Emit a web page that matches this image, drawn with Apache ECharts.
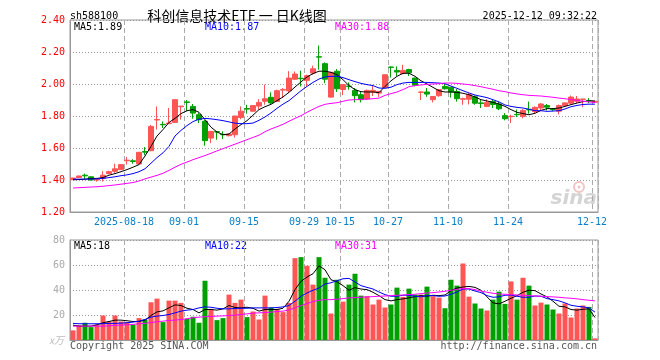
<!DOCTYPE html>
<html><head><meta charset="utf-8">
<script src="https://cdn.jsdelivr.net/npm/echarts@6/dist/echarts.min.js"></script>
<style>html,body{margin:0;padding:0;background:#fff}#c{width:660px;height:360px}</style>
</head><body><div id="c"></div>
<script>
const dates = [
'2025-08-05','2025-08-06','2025-08-07','2025-08-08','2025-08-11','2025-08-12','2025-08-13','2025-08-14','2025-08-15','2025-08-18',
'2025-08-19','2025-08-20','2025-08-21','2025-08-22','2025-08-25','2025-08-26','2025-08-27','2025-08-28','2025-08-29','2025-09-01',
'2025-09-02','2025-09-03','2025-09-04','2025-09-05','2025-09-08','2025-09-09','2025-09-10','2025-09-11','2025-09-12','2025-09-15',
'2025-09-16','2025-09-17','2025-09-18','2025-09-19','2025-09-22','2025-09-23','2025-09-24','2025-09-25','2025-09-26','2025-09-29',
'2025-09-30','2025-10-09','2025-10-10','2025-10-13','2025-10-14','2025-10-15','2025-10-16','2025-10-17','2025-10-20','2025-10-21',
'2025-10-22','2025-10-23','2025-10-24','2025-10-27','2025-10-28','2025-10-29','2025-10-30','2025-10-31','2025-11-03','2025-11-04',
'2025-11-05','2025-11-06','2025-11-07','2025-11-10','2025-11-11','2025-11-12','2025-11-13','2025-11-14','2025-11-17','2025-11-18',
'2025-11-19','2025-11-20','2025-11-21','2025-11-24','2025-11-25','2025-11-26','2025-11-27','2025-11-28','2025-12-01','2025-12-02',
'2025-12-03','2025-12-04','2025-12-05','2025-12-08','2025-12-09','2025-12-10','2025-12-11','2025-12-12'];
const labelIdx = [9,19,29,39,45,53,63,73,87];

const open = [1.402,1.415,1.43,1.42,1.40,1.41,1.44,1.454,1.465,1.52, 1.52,1.50,1.578,1.583,1.775,1.748,1.752,1.76,1.858,1.888, 1.86,1.808,1.767,1.662,1.702,1.685,1.677,1.683,1.79,1.847, 1.83,1.862,1.892,1.917,1.89,1.962,1.958,2.03,2.036,2.023, 2.068,2.17,2.127,1.918,2.08,1.966,1.987,1.96,1.933,1.906, 1.95,1.943,1.978,2.106,2.085,2.065,2.09,2.037,1.948,1.95, 1.902,1.927,1.985,1.98,1.954,1.905,1.905,1.92,1.882,1.86, 1.89,1.875,1.802,1.796,1.81,1.798,1.842,1.828,1.85,1.865, 1.842,1.83,1.865,1.88,1.892,1.904,1.897,1.886];
const close = [1.412,1.425,1.426,1.40,1.405,1.43,1.452,1.47,1.496,1.524, 1.516,1.573,1.574,1.735,1.778,1.745,1.756,1.902,1.862,1.885, 1.818,1.777,1.646,1.704,1.70,1.683,1.687,1.80,1.83,1.843, 1.865,1.885,1.908,1.882,1.958,1.965,2.037,2.062,2.033,2.052, 2.095,2.168,2.03,2.073,1.97,1.996,1.985,1.927,1.902,1.96, 1.96,1.954,2.058,2.104,2.075,2.085,2.07,1.992,1.95,1.937, 1.922,1.965,1.97,1.95,1.908,1.908,1.933,1.88,1.878,1.885, 1.872,1.845,1.783,1.798,1.808,1.835,1.838,1.854,1.875,1.855, 1.84,1.865,1.882,1.918,1.906,1.906,1.895,1.892];
const low = [1.40,1.412,1.408,1.398,1.39,1.39,1.436,1.444,1.462,1.496, 1.502,1.498,1.555,1.58,1.715,1.725,1.752,1.758,1.777,1.83, 1.783,1.756,1.615,1.63,1.652,1.656,1.672,1.665,1.78,1.815, 1.828,1.84,1.87,1.87,1.888,1.912,1.945,2.025,1.985,1.985, 2.058,2.09,2.005,1.915,1.95,1.93,1.965,1.885,1.885,1.90, 1.925,1.92,1.975,2.04,2.05,2.06,2.05,1.985,1.90,1.92, 1.885,1.92,1.965,1.915,1.89,1.87,1.872,1.87,1.85,1.855, 1.85,1.837,1.773,1.756,1.793,1.785,1.815,1.818,1.835,1.835, 1.83,1.81,1.862,1.875,1.88,1.855,1.88,1.885];
const high = [1.414,1.428,1.44,1.422,1.408,1.455,1.458,1.502,1.50,1.544, 1.53,1.575,1.606,1.745,1.86,1.766,1.85,1.905,1.862,1.90, 1.875,1.818,1.775,1.704,1.702,1.704,1.69,1.80,1.86,1.87, 1.868,1.905,1.996,1.948,1.965,1.975,2.08,2.078,2.083,2.058, 2.115,2.24,2.135,2.075,2.093,1.996,2.01,1.975,1.955,1.965, 1.995,1.954,2.058,2.11,2.11,2.12,2.095,2.04,1.954,1.975, 1.922,1.965,2.005,1.98,1.968,1.915,1.943,1.928,1.90,1.905, 1.90,1.89,1.818,1.808,1.84,1.843,1.89,1.86,1.88,1.875, 1.85,1.872,1.885,1.928,1.925,1.906,1.912,1.895];

const ma5 = [1.402,1.403,1.405,1.41,1.41,1.415,1.43,1.44,1.452,1.465, 1.48,1.496,1.55,1.61,1.675,1.715,1.76,1.785,1.815,1.833, 1.84,1.823,1.777,1.73,1.70,1.683,1.687,1.719,1.746,1.771, 1.805,1.84,1.858,1.873,1.896,1.919,1.948,1.981,2.013,2.044, 2.065,2.08,2.08,2.073,2.058,2.027,1.99,1.965,1.952,1.95, 1.95,1.946,1.985,2.02,2.048,2.067,2.067,2.048,2.02,2.00, 1.979,1.958,1.95,1.95,1.948,1.942,1.933,1.919,1.902,1.894, 1.885,1.875,1.86,1.84,1.823,1.815,1.808,1.817,1.835,1.846, 1.846,1.85,1.86,1.871,1.881,1.89,1.894,1.894];
const ma10 = [1.405,1.405,1.405,1.406,1.407,1.41,1.415,1.42,1.427,1.432, 1.44,1.452,1.47,1.505,1.54,1.57,1.61,1.675,1.71,1.74, 1.765,1.78,1.785,1.782,1.777,1.771,1.763,1.755,1.752,1.752, 1.756,1.773,1.794,1.819,1.848,1.874,1.896,1.927,1.958,1.985, 2.01,2.031,2.044,2.048,2.048,2.04,2.027,2.015,2.004,1.996, 1.99,1.975,1.973,1.98,1.996,2.006,2.01,2.01,2.01,2.01, 2.008,2.006,2.002,1.987,1.973,1.958,1.944,1.931,1.923,1.915, 1.902,1.888,1.869,1.86,1.854,1.85,1.842,1.833,1.833,1.829, 1.831,1.833,1.844,1.858,1.866,1.872,1.874,1.874];
const ma30 = [1.35,1.352,1.354,1.356,1.358,1.361,1.365,1.369,1.374,1.379, 1.384,1.394,1.407,1.418,1.429,1.442,1.46,1.48,1.498,1.512, 1.527,1.54,1.553,1.567,1.582,1.596,1.61,1.624,1.638,1.652, 1.666,1.68,1.702,1.719,1.733,1.748,1.767,1.785,1.802,1.823, 1.842,1.86,1.873,1.879,1.883,1.892,1.90,1.902,1.904,1.906, 1.908,1.912,1.929,1.94,1.95,1.965,1.983,1.99,1.994,1.998, 2.0,2.002,2.006,2.006,2.004,2.0,1.996,1.99,1.983,1.975, 1.967,1.958,1.952,1.944,1.938,1.933,1.929,1.927,1.925,1.921, 1.917,1.912,1.908,1.902,1.898,1.892,1.888,1.884];

const vol = [7.7,11.7,13.8,10.3,12.2,19.6,14.8,19.6,14.8,14.3, 12.2,17.5,16.4,30.2,33.1,14.3,31.5,31.5,29.7,17.0, 18.6,13.8,47.4,24.9,15.9,17.5,36.3,29.7,32.3,18.3, 22.8,16.4,35.5,26.0,24.9,22.3,29.7,65.5,66.3,59.4, 44.3,66.3,49.8,21.2,48.2,30.7,44.3,53.0,35.5,35.0, 28.4,32.3,26.0,28.4,41.9,34.5,41.1,36.3,36.3,42.7, 35.0,33.9,25.4,48.2,43.5,61.2,34.7,29.2,25.2,23.6, 32.3,38.7,28.9,46.9,32.3,49.8,43.5,27.6,29.9,28.4, 24.4,21.2,29.2,18.0,25.2,27.6,26.5,1.3];
const vma5 = [11.9,11.1,11.1,11.1,12.2,13.8,14.8,15.9,15.9,15.4, 14.8,14.8,15.9,19.6,22.5,23.3,25.7,28.1,27.6,25.4, 24.4,21.7,24.4,24.4,23.9,24.9,27.6,26.0,25.7,26.2, 25.4,23.1,24.4,24.4,24.4,25.4,31.0,40.3,46.9,50.4, 53.0,59.4,56.2,48.2,46.6,43.5,39.8,41.9,40.8,40.3, 38.2,35.5,32.3,31.3,32.3,32.9,33.7,34.7,35.5,35.0, 35.8,35.5,36.0,39.5,41.6,42.4,42.9,42.1,39.8,34.5, 29.7,28.9,31.0,33.4,35.5,38.2,39.8,39.5,36.8,34.5, 31.0,27.0,26.5,24.4,23.9,24.6,24.9,18.0];
const vma10 = [13.3,13.0,13.0,13.0,13.0,13.0,13.3,13.3,13.5,13.8, 14.3,15.1,16.4,18.3,19.1,19.6,20.4,21.7,23.1,23.9, 24.4,25.7,26.5,26.2,25.4,24.9,24.9,25.2,25.4,25.4, 25.7,25.7,25.7,25.7,26.0,26.5,27.6,31.0,35.0,37.6, 39.8,41.6,44.8,45.8,47.4,49.0,49.3,46.4,43.5,42.1, 40.8,38.4,36.3,35.0,35.0,35.8,35.8,35.0,34.5,35.5, 35.5,35.0,35.2,36.6,38.4,40.8,40.8,39.2,37.9,35.5, 34.2,34.5,35.8,36.0,35.0,34.2,34.2,35.2,35.0,33.1, 32.3,31.3,29.7,27.8,27.0,26.5,25.7,22.3];
const vma30 = [11.1,11.1,11.1,11.1,11.1,11.1,11.4,11.7,11.9,12.2, 12.5,13.0,13.3,14.0,14.6,15.1,15.6,15.9,16.4,17.0, 17.8,18.3,18.6,18.8,19.1,19.3,19.6,19.9,20.4,20.9, 21.5,21.7,22.0,22.3,22.8,23.1,24.1,25.7,27.6,29.2, 30.7,31.8,32.3,32.3,32.6,33.1,33.7,33.9,34.2,34.5, 34.7,35.0,35.2,35.5,35.8,36.0,36.3,36.6,37.1,37.6, 37.9,38.4,39.0,39.8,40.5,41.3,41.1,40.3,39.2,38.2, 37.4,36.8,36.6,36.3,36.0,35.8,35.5,35.2,35.0,34.7, 34.5,34.2,33.7,33.4,32.9,32.3,31.8,31.3];

const priceTicks = [1.2, 2.4, 0.2];
const volTicks = [0, 80, 20];

const RED = '#ff5555', GREEN = '#00a000';
const MONO = 'DejaVu Sans Mono';
const CJK = 'Noto Sans CJK SC';
const showIdx = i => labelIdx.indexOf(i) >= 0;
const last = a => a[a.length - 1];

const candle = dates.map((d, i) => [open[i], close[i], low[i], high[i]]);
const volData = vol.map((v, i) => ({ value: v, itemStyle: { color: close[i] >= open[i] ? RED : GREEN } }));

function xAx(gi, labels) {
  return {
    type: 'category', data: dates, gridIndex: gi, boundaryGap: true,
    axisLine: { show: true, lineStyle: { color: '#999' } },
    axisTick: { show: false },
    axisLabel: labels ? {
      interval: (i) => showIdx(i),
      formatter: (v, i) => (i === labelIdx[0] ? v : v.slice(5)),
      color: '#0a7fc6', fontFamily: MONO, fontSize: 10, margin: 5, padding: [0, 6, 0, 0]
    } : { show: false },
    splitLine: { show: true, interval: (i) => showIdx(i), lineStyle: { color: '#aaa', type: [5, 3], width: 1 } }
  };
}
function line(name, data, color, xi, yi) {
  return { name, type: 'line', data, xAxisIndex: xi, yAxisIndex: yi, symbol: 'none', silent: true,
    lineStyle: { color, width: 1 }, itemStyle: { color }, z: 5 };
}
const txt = (x, y, s, fill, opt) => Object.assign({ type: 'text', x, y, silent: true,
  style: Object.assign({ text: s, fill, font: '10px ' + MONO, textVerticalAlign: 'middle' }, opt || {}) });

const chart = echarts.init(document.getElementById('c'), null, { renderer: 'canvas' });
chart.setOption({
  animation: false,
  backgroundColor: '#fff',
  grid: [
    { left: 70, right: 62, top: 20, height: 192, show: true, borderColor: '#999', borderWidth: 1 },
    { left: 70, right: 62, top: 240, height: 100, show: true, borderColor: '#999', borderWidth: 1 }
  ],
  xAxis: [xAx(0, true), xAx(1, false)],
  yAxis: [
    { type: 'value', gridIndex: 0, min: priceTicks[0], max: priceTicks[1], interval: priceTicks[2],
      axisLine: { show: true, lineStyle: { color: '#999' } }, axisTick: { show: false },
      axisLabel: { formatter: v => v.toFixed(2), color: '#f00', fontFamily: MONO, fontSize: 10, margin: 5 },
      splitLine: { lineStyle: { color: '#999', type: [1, 2] } } },
    { type: 'value', gridIndex: 1, min: volTicks[0], max: volTicks[1], interval: volTicks[2],
      axisLine: { show: true, lineStyle: { color: '#999' } }, axisTick: { show: false },
      axisLabel: { formatter: v => (v === 0 ? '' : String(v)), color: '#aaa', fontFamily: MONO, fontSize: 10, margin: 5 },
      splitLine: { lineStyle: { color: '#999', type: [1, 2] } } }
  ],
  series: [
    { type: 'candlestick', data: candle, xAxisIndex: 0, yAxisIndex: 0, barWidth: 5, silent: true,
      itemStyle: { color: RED, color0: GREEN, borderColor: RED, borderColor0: GREEN, borderWidth: 1 } },
    line('MA5', ma5, '#000', 0, 0),
    line('MA10', ma10, '#0000ff', 0, 0),
    line('MA30', ma30, '#ff00ff', 0, 0),
    { type: 'bar', data: volData, xAxisIndex: 1, yAxisIndex: 1, barWidth: 5, silent: true },
    line('VMA5', vma5, '#000', 1, 1),
    line('VMA10', vma10, '#0000ff', 1, 1),
    line('VMA30', vma30, '#ff00ff', 1, 1)
  ],
  graphic: [
    txt(70, 16, 'sh588100', '#000'),
    txt(237, 16, '科创信息技术ETF 一 日K线图', '#000', { font: '14px "' + CJK + '"', textAlign: 'center' }),
    txt(597, 16, '2025-12-12 09:32:22', '#000', { textAlign: 'right' }),
    txt(74, 27, 'MA5:' + last(ma5).toFixed(2), '#000'),
    txt(205, 27, 'MA10:' + last(ma10).toFixed(2), '#0000ff'),
    txt(335, 27, 'MA30:' + last(ma30).toFixed(2), '#ff00ff'),
    txt(74, 246, 'MA5:' + Math.round(last(vma5)), '#000'),
    txt(205, 246, 'MA10:' + Math.round(last(vma10)), '#0000ff'),
    txt(335, 246, 'MA30:' + Math.round(last(vma30)), '#ff00ff'),
    txt(64, 340, 'x万', '#bbb', { textAlign: 'right', font: 'italic 10px "' + CJK + '"' }),
    txt(70, 346, 'Copyright 2025 SINA.COM', '#555'),
    txt(597, 346, 'http://finance.sina.com.cn', '#555', { textAlign: 'right' }),
    { type: 'circle', shape: { cx: 579, cy: 187, r: 5 }, silent: true, style: { fill: 'none', stroke: '#f2c4c4', lineWidth: 2 } },
    { type: 'circle', shape: { cx: 579, cy: 187, r: 1.5 }, silent: true, style: { fill: '#f2c4c4' } },
    txt(597, 199, 'sina', '#d4d4d4', { textAlign: 'right', font: 'italic bold 20px "DejaVu Sans"' })
  ]
});
</script></body></html>
